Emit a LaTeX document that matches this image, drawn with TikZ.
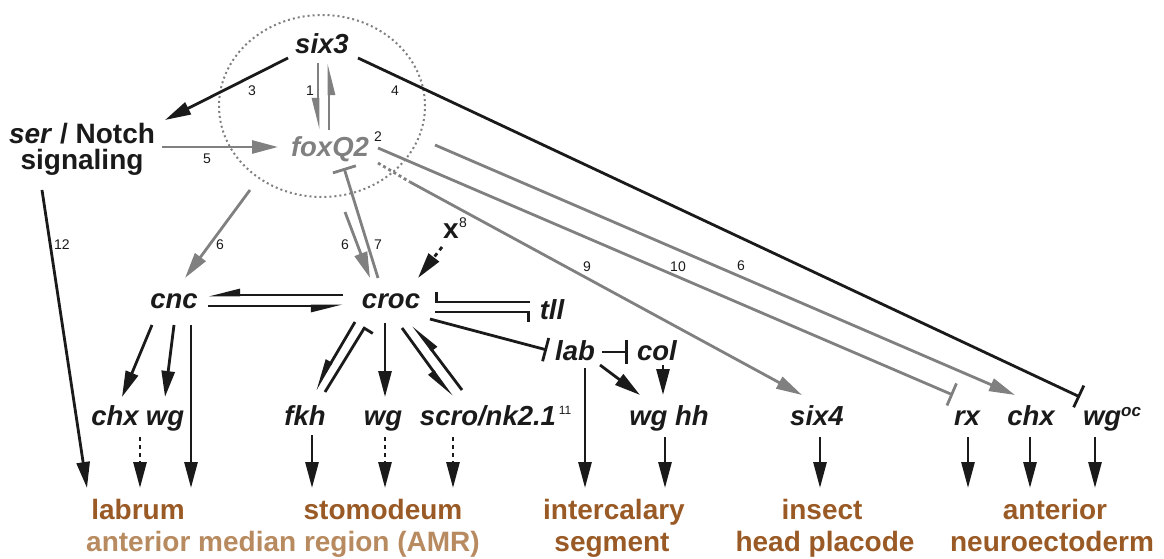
\documentclass[tikz,border=0pt]{standalone}
\usepackage{fontspec}
\setmainfont{Liberation Sans}
\usetikzlibrary{arrows.meta}
\definecolor{lg}{HTML}{808080}
\definecolor{dk}{HTML}{1A1A1A}
\definecolor{brA}{HTML}{9A5A26}
\definecolor{brB}{HTML}{B78A60}
\begin{document}
\begin{tikzpicture}[x=1pt,y=1pt,
  gene/.style={font=\fontsize{27.5}{30}\selectfont\bfseries\itshape, inner sep=0pt, anchor=base, text=dk},
  big/.style={font=\fontsize{28}{30}\selectfont\bfseries, inner sep=0pt, anchor=base, text=dk},
  reg/.style={font=\fontsize{28}{30}\selectfont\bfseries, inner sep=0pt, anchor=base, text=brA},
  num/.style={font=\fontsize{14}{14}\selectfont, inner sep=0pt, anchor=center, text=dk},
  ln/.style={line width=2.8pt, draw=dk},
  gl/.style={line width=2.8pt, draw=lg},
  ar/.style={-{Triangle[length=26pt,width=13pt]}},
  har/.style={-{Triangle[length=26pt,width=12pt,harpoon,swap]}},
  tb/.style={-{Bar[width=24pt]}},
  htb/.style={-{Bar[width=20pt,harpoon,swap]}},
  dotl/.style={dash pattern=on 4pt off 4pt},
  circ/.style={draw=lg, line width=2pt, dash pattern=on 2pt off 3pt}
]
\useasboundingbox (0,0) rectangle (1164,-559);

% dotted circle
\draw[circ] (322,-106) ellipse [x radius=103, y radius=91];

% nodes
\node[gene] (six3) at (322,-54) {six3};
\node[big] (ser) at (82,-143) {\textit{ser} / Notch};
\node[big] (sig) at (82,-169) {signaling};
\node[gene,text=lg] (foxQ2) at (330,-157) {foxQ2};
\node[num] (n2) at (378,-137) {2};
\node[big] (xeight) at (451,-238) {x};
\node[num] (n8) at (463,-223) {8};
\node[gene] (cnc) at (174,-308) {cnc};
\node[gene] (croc) at (391,-308) {croc};
\node[gene] (tll) at (552,-319) {tll};
\node[gene] (lab) at (575,-360) {lab};
\node[gene] (col) at (657,-360) {col};
\node[gene] (chxA) at (115,-425) {chx};
\node[gene] (wgA) at (165,-425) {wg};
\node[gene] (fkh) at (305,-425) {fkh};
\node[gene] (wgB) at (383,-425) {wg};
\node[gene] (scro) at (488,-425) {scro/nk2.1};
\node[num,font=\fontsize{12}{12}\selectfont] (n11) at (565,-410) {11};
\node[gene] (wghh) at (669,-425) {wg hh};
\node[gene] (sixfour) at (817,-425) {six4};
\node[gene] (rx) at (967,-425) {rx};
\node[gene] (chxB) at (1031,-425) {chx};
\node[gene] (wgoc) at (1112,-425) {wg\raisebox{9pt}{\fontsize{17}{17}\selectfont oc}};

\node[reg] (labrum) at (138,-519) {labrum};
\node[reg,text=brB] (amr) at (283,-551) {anterior median region (AMR)};
\node[reg] (stomo) at (383,-519) {stomodeum};
\node[reg] (inter) at (614,-519) {intercalary};
\node[reg] (segm) at (612,-551) {segment};
\node[reg] (insect) at (822,-519) {insect};
\node[reg] (headpl) at (825,-551) {head placode};
\node[reg] (anter) at (1055,-519) {anterior};
\node[reg] (neuro) at (1052,-551) {neuroectoderm};

% number labels
\node[num] (n3) at (252,-91) {3};
\node[num] (n1) at (310,-91) {1};
\node[num] (n4) at (395,-91) {4};
\node[num] (n5) at (207,-159) {5};
\node[num] (n6a) at (220,-245) {6};
\node[num] (n6b) at (345,-245) {6};
\node[num] (n7) at (378,-245) {7};
\node[num] (n9) at (587,-267) {9};
\node[num] (n10) at (678,-267) {10};
\node[num] (n6c) at (741,-266) {6};
\node[num] (n12) at (62,-245) {12};

% six3 connections
\draw[ln,ar] ([shift={(-34,-4)}]six3.base) -- ([shift={(83,23)}]ser.base);
\draw[ln,tb] ([shift={(36,-4)}]six3.base) -- ([shift={(-32,28)}]wgoc.base);
\draw[gl,har] ([shift={(-4,-9)}]six3.base) -- ([shift={(-12,27)}]foxQ2.base);
\draw[gl,har] ([shift={(-1,27)}]foxQ2.base) -- ([shift={(7,-9)}]six3.base);

% ser / Notch
\draw[gl,ar] ([shift={(80,-4)}]ser.base) -- ([shift={(-52,10)}]foxQ2.base);
\draw[ln,ar] ([shift={(-40,-21)}]sig.base) -- ([shift={(-51,31)}]labrum.base);

% foxQ2 outputs
\draw[gl,ar] ([shift={(-80,-33)}]foxQ2.base) -- ([shift={(11,30)}]cnc.base);
\draw[gl,ar] ([shift={(15,-55)}]foxQ2.base) -- ([shift={(-21,30)}]croc.base);
\draw[gl,tb] ([shift={(-13,30)}]croc.base) -- ([shift={(14,-11)}]foxQ2.base);
\draw[gl,dash pattern=on 3pt off 3pt] ([shift={(48,-6)}]foxQ2.base) -- ([shift={(80,-25)}]foxQ2.base);
\draw[gl,ar] ([shift={(80,-25)}]foxQ2.base) -- ([shift={(-15,30)}]sixfour.base);
\draw[gl,tb] ([shift={(48,9)}]foxQ2.base) -- ([shift={(-14,30)}]rx.base);
\draw[gl,ar] ([shift={(105,12)}]foxQ2.base) -- ([shift={(-16,30)}]chxB.base);

% x8
\draw[ln,ar,dash pattern=on 4pt off 4pt] ([shift={(-9,-9)}]xeight.base) -- ([shift={(27,30)}]croc.base);

% cnc <-> croc
\draw[ln,har] ([shift={(-48,13)}]croc.base) -- ([shift={(34,13)}]cnc.base);
\draw[ln,har] ([shift={(34,2)}]cnc.base) -- ([shift={(-48,2)}]croc.base);

% croc -- tll
\draw[ln,htb] ([shift={(-22,17)}]tll.base) -- ([shift={(44,6)}]croc.base);
\draw[ln,htb] ([shift={(44,-4)}]croc.base) -- ([shift={(-22,7)}]tll.base);

% croc -| lab, lab -| col
\draw[ln,tb] ([shift={(39,-11)}]croc.base) -- ([shift={(-28,10)}]lab.base);
\draw[ln,tb] ([shift={(27,8)}]lab.base) -- ([shift={(-29,8)}]col.base);
\draw[ln,ar] ([shift={(6,-5)}]col.base) -- ([shift={(-6,30)}]wghh.base);
\draw[ln,ar] ([shift={(25,-5)}]lab.base) -- ([shift={(-29,30)}]wghh.base);
\draw[ln,ar] ([shift={(10,-8)}]lab.base) -- ([shift={(-29,31)}]inter.base);

% cnc outputs
\draw[ln,ar] ([shift={(-22,-17)}]cnc.base) -- ([shift={(7,28)}]chxA.base);
\draw[ln,ar] ([shift={(0,-17)}]cnc.base) -- ([shift={(0,28)}]wgA.base);
\draw[ln,ar] ([shift={(17,-17)}]cnc.base) -- ([shift={(53,31)}]labrum.base);
\draw[ln,ar,dotl] ([shift={(25,-12)}]chxA.base) -- ([shift={(2,31)}]labrum.base);

% croc outputs
\draw[ln,har] ([shift={(-36,-14)}]croc.base) -- ([shift={(10,35)}]fkh.base);
\draw[ln,htb] ([shift={(20,33)}]fkh.base) -- ([shift={(-26,-19)}]croc.base);
\draw[ln,ar] ([shift={(-6,-15)}]croc.base) -- ([shift={(2,28)}]wgB.base);
\draw[ln,har] ([shift={(11,-20)}]croc.base) -- ([shift={(-36,28)}]scro.base);
\draw[ln,har] ([shift={(-26,35)}]scro.base) -- ([shift={(22,-17)}]croc.base);

% bottom row
\draw[ln,ar] ([shift={(7,-10)}]fkh.base) -- ([shift={(-71,31)}]stomo.base);
\draw[ln,ar,dotl] ([shift={(2,-12)}]wgB.base) -- ([shift={(2,31)}]stomo.base);
\draw[ln,ar,dotl] ([shift={(-35,-12)}]scro.base) -- ([shift={(70,31)}]stomo.base);
\draw[ln,ar] ([shift={(-4,-12)}]wghh.base) -- ([shift={(51,31)}]inter.base);
\draw[ln,ar] ([shift={(3,-12)}]sixfour.base) -- ([shift={(-2,31)}]insect.base);
\draw[ln,ar] ([shift={(1,-12)}]rx.base) -- ([shift={(-87,31)}]anter.base);
\draw[ln,ar] ([shift={(-1,-12)}]chxB.base) -- ([shift={(-25,31)}]anter.base);
\draw[ln,ar] ([shift={(-17,-12)}]wgoc.base) -- ([shift={(40,31)}]anter.base);
\end{tikzpicture}
\end{document}
